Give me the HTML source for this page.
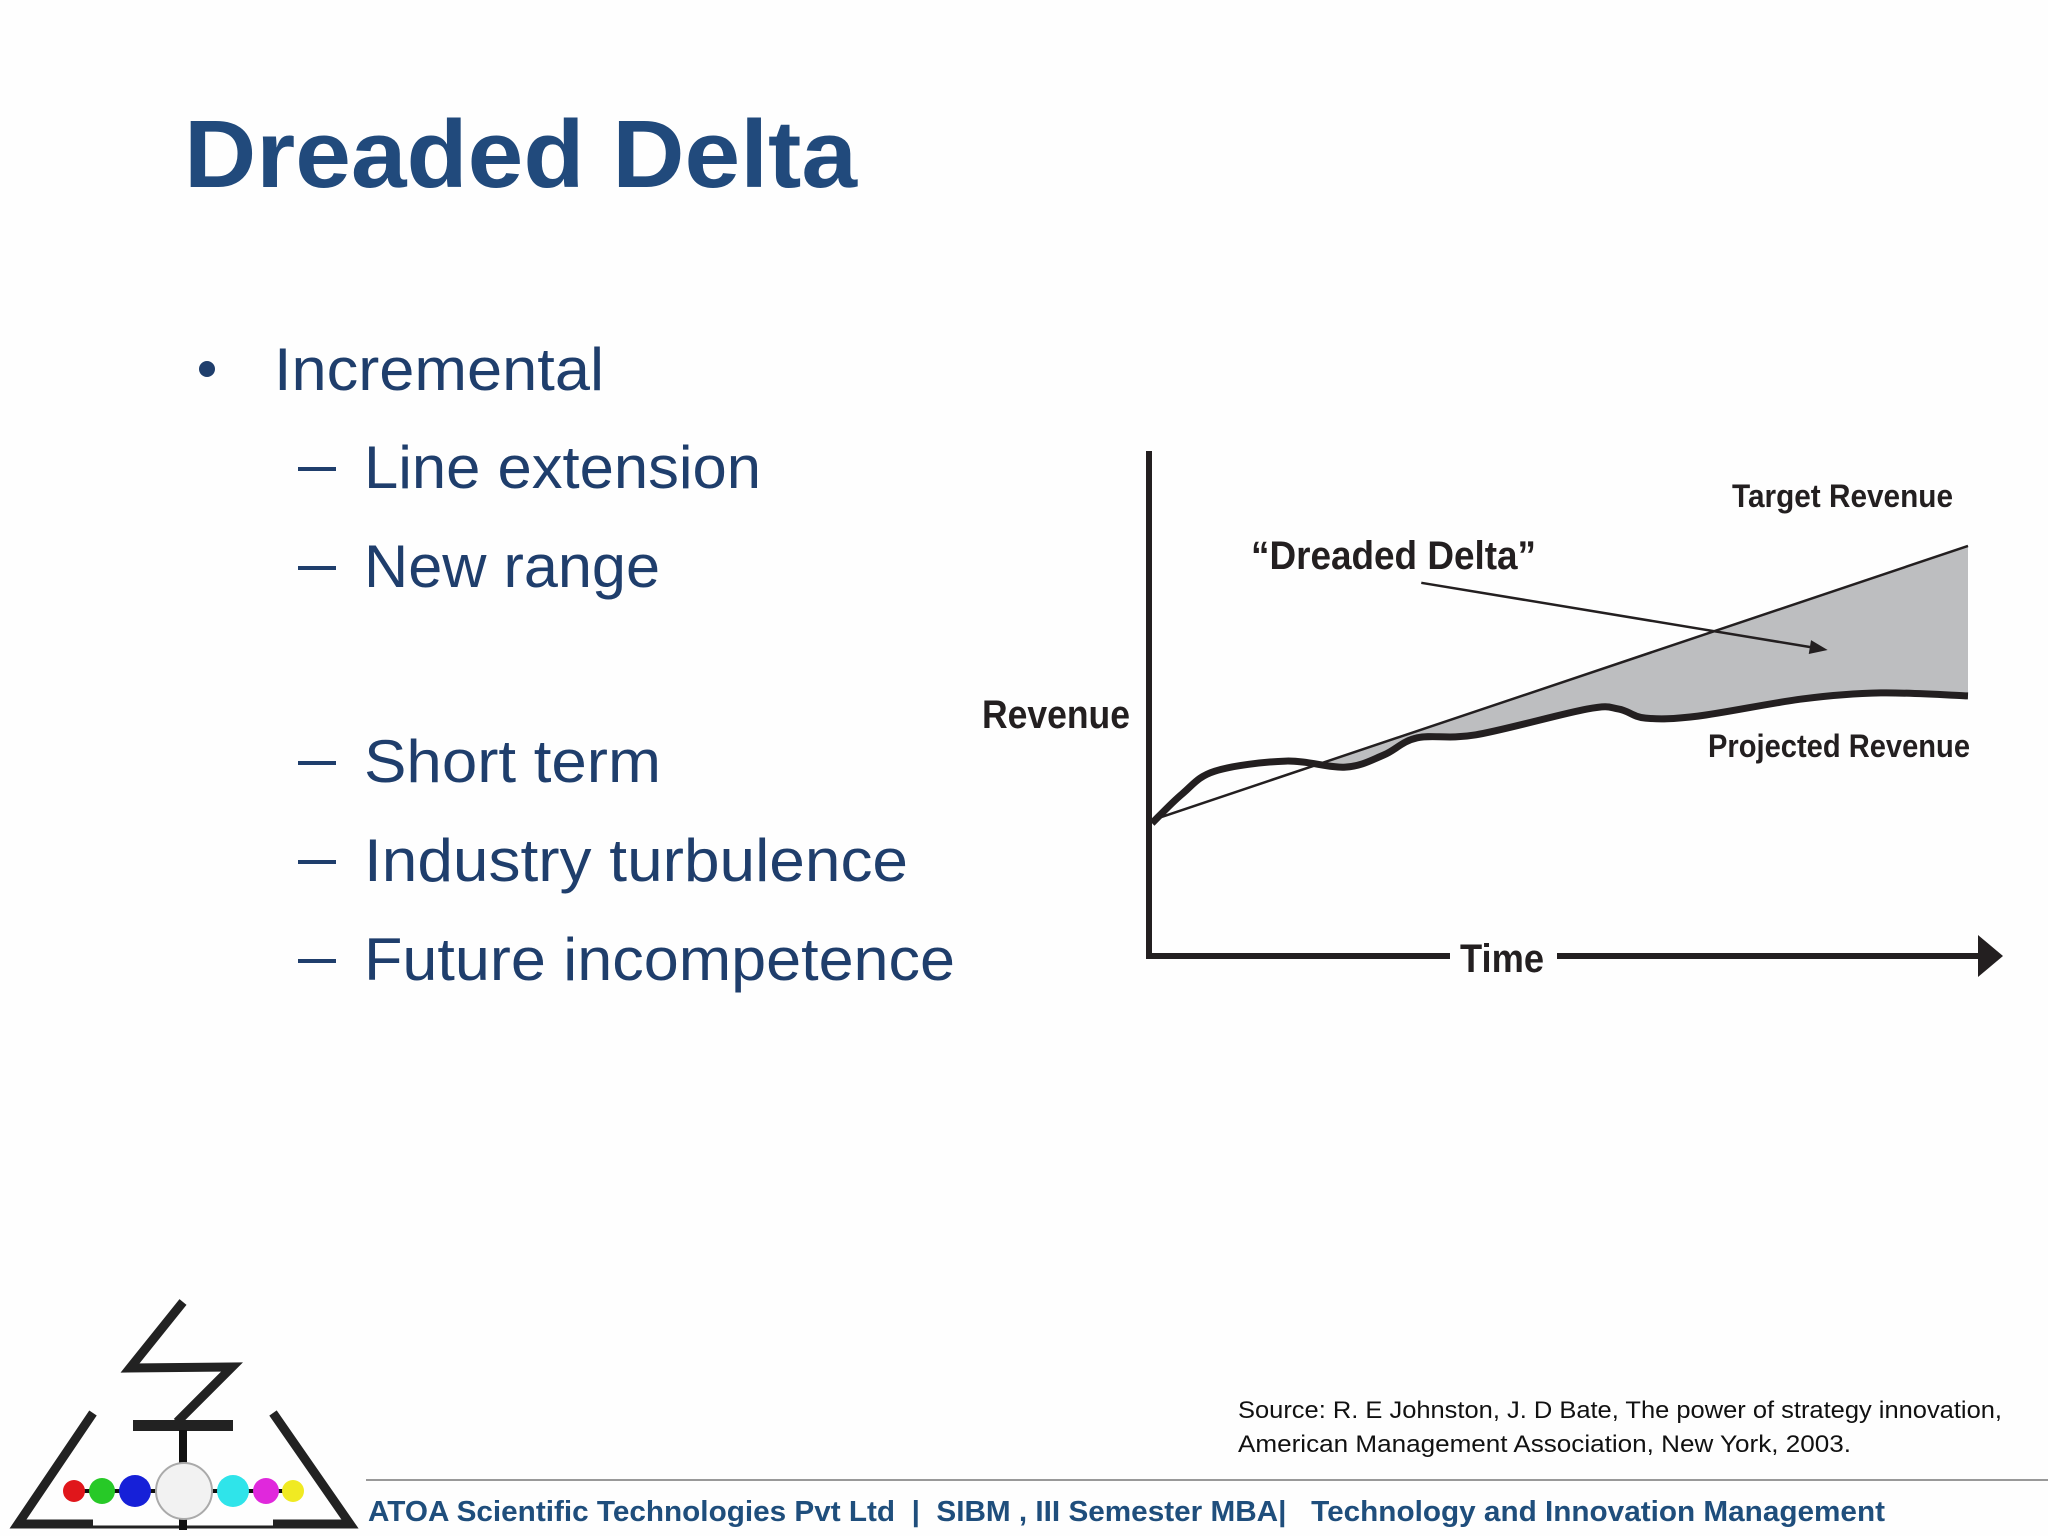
<!DOCTYPE html>
<html><head><meta charset="utf-8"><style>
html,body{margin:0;padding:0;background:#fff;}
svg{display:block;}
.n{font-family:"Liberation Sans Narrow","Liberation Sans",sans-serif;font-weight:bold;fill:#231f20;}
</style></head><body>
<svg id="s" width="2048" height="1536" viewBox="0 0 2048 1536">
<rect width="2048" height="1536" fill="#fefefe"/>
<text x="184" y="187" font-family="Liberation Sans" font-weight="bold" font-size="96" fill="#214a7c" textLength="673" lengthAdjust="spacingAndGlyphs">Dreaded Delta</text>
<g font-family="Liberation Sans" font-size="60" fill="#1f3e6c">
<circle cx="207" cy="369" r="8" fill="#1f3e6c"/>
<text x="274" y="390" textLength="330" lengthAdjust="spacingAndGlyphs">Incremental</text>
<g>
<rect x="298" y="467" width="38" height="4"/>
<text x="364" y="488" textLength="397" lengthAdjust="spacingAndGlyphs">Line extension</text>
<rect x="298" y="566" width="38" height="4"/>
<text x="364" y="587" textLength="296" lengthAdjust="spacingAndGlyphs">New range</text>
<rect x="298" y="761" width="38" height="4"/>
<text x="364" y="782" textLength="297" lengthAdjust="spacingAndGlyphs">Short term</text>
<rect x="298" y="860" width="38" height="4"/>
<text x="364" y="881" textLength="544" lengthAdjust="spacingAndGlyphs">Industry turbulence</text>
<rect x="298" y="959" width="38" height="4"/>
<text x="364" y="980" textLength="591" lengthAdjust="spacingAndGlyphs">Future incompetence</text>
</g></g>
<g id="chart"></g>
<g font-family="Liberation Sans" font-size="24" fill="#111">
<text x="1238" y="1418" textLength="764" lengthAdjust="spacingAndGlyphs">Source: R. E Johnston, J. D Bate, The power of strategy innovation,</text>
<text x="1238" y="1452" textLength="613" lengthAdjust="spacingAndGlyphs">American Management Association, New York, 2003.</text>
</g>
<line x1="366" y1="1480" x2="2048" y2="1480" stroke="#999" stroke-width="2"/>
<text x="368" y="1521" font-family="Liberation Sans" font-weight="bold" font-size="29" fill="#1f4e7c" textLength="1517" lengthAdjust="spacingAndGlyphs" xml:space="preserve">ATOA Scientific Technologies Pvt Ltd  |  SIBM , III Semester MBA|   Technology and Innovation Management</text>
<g>
<polyline points="93,1413 18,1524 93,1524" fill="none" stroke="#222" stroke-width="9"/>
<polyline points="273,1413 350,1524 273,1524" fill="none" stroke="#222" stroke-width="9"/>
<line x1="93" y1="1527" x2="273" y2="1527" stroke="#222" stroke-width="3"/>
<polyline points="183,1302 130,1368 232,1367 177,1422" fill="none" stroke="#222" stroke-width="9"/>
<rect x="133" y="1420" width="100" height="11" fill="#222"/>
<rect x="179" y="1430" width="8" height="100" fill="#111"/>
<line x1="74" y1="1491" x2="293" y2="1491" stroke="#111" stroke-width="4"/>
<circle cx="74" cy="1491" r="11" fill="#e0161b"/>
<circle cx="102" cy="1491" r="13" fill="#27c927"/>
<circle cx="135" cy="1491" r="16" fill="#1620d8"/>
<circle cx="184" cy="1491" r="28" fill="#f2f2f2" stroke="#aaa" stroke-width="2"/>
<circle cx="233" cy="1491" r="16" fill="#2fe4ea"/>
<circle cx="266" cy="1491" r="13" fill="#e028dc"/>
<circle cx="293" cy="1491" r="11" fill="#f0ea22"/>
</g>
</svg>
<script>
const timeT=[0,100];
const targetR=[26.9,81.2];
const timeP=[0,3.7,7.7,16.4,23.7,28.4,32.5,39.7,53.3,57.2,60.5,66.9,79.7,89.3,100];
const projR=[26.3,32.1,36.6,38.6,37.4,39.8,43.2,43.8,48.9,48.9,47.1,47.5,50.9,52.1,51.5];
const arrowFrom=[33.0,73.9];const arrowTo=[82.8,60.6];
const NS="http://www.w3.org/2000/svg";
const xS=t=>1152+8.16*t, yS=r=>956-5.05*r;
const g=document.getElementById('chart');
function el(tag,attrs){const e=document.createElementNS(NS,tag);for(const k in attrs)e.setAttribute(k,attrs[k]);g.appendChild(e);return e;}
const tPts=timeT.map((t,i)=>[xS(t),yS(targetR[i])]);
const pPts=timeP.map((t,i)=>[xS(t),yS(projR[i])]);
const gap=el('polygon',{points:tPts.map(p=>p.join(',')).join(' ')+` ${xS(100)},${yS(0)} ${xS(0)},${yS(0)}`,fill:'#bdbec0'});


// catmull-rom smooth path
let d=`M${pPts[0][0]},${pPts[0][1]}`;
for(let i=0;i<pPts.length-1;i++){const p0=pPts[Math.max(0,i-1)],p1=pPts[i],p2=pPts[i+1],p3=pPts[Math.min(pPts.length-1,i+2)];
const c1=[p1[0]+(p2[0]-p0[0])/6,p1[1]+(p2[1]-p0[1])/6],c2=[p2[0]-(p3[0]-p1[0])/6,p2[1]-(p3[1]-p1[1])/6];
d+=` C${c1[0]},${c1[1]} ${c2[0]},${c2[1]} ${p2[0]},${p2[1]}`;}
const mask=el('path',{d:d+` L${xS(100)},${yS(0)} L${xS(0)},${yS(0)} Z`,fill:'#fefefe'});


const tl=el('line',{x1:tPts[0][0],y1:tPts[0][1],x2:tPts[1][0],y2:tPts[1][1],stroke:'#231f20','stroke-width':2.5});


const pl=el('path',{d:d,fill:'none',stroke:'#231f20','stroke-width':7,'stroke-linejoin':'round'});


const ya=el('rect',{x:1146,y:451,width:6,height:508,fill:'#231f20'});


const xa1=el('rect',{x:1146,y:953,width:304,height:6,fill:'#231f20'});


const xa2=el('rect',{x:1557,y:953,width:430,height:6,fill:'#231f20'});


const ah=el('polygon',{points:'1978,935 2003,956 1978,977',fill:'#231f20'});


const ax1=xS(arrowFrom[0]),ay1=yS(arrowFrom[1]),ax2=xS(arrowTo[0]),ay2=yS(arrowTo[1]);
const ang=Math.atan2(ay2-ay1,ax2-ax1);
const al=el('line',{x1:ax1,y1:ay1,x2:ax2-12*Math.cos(ang),y2:ay2-12*Math.sin(ang),stroke:'#231f20','stroke-width':2.5});


const hp=[[ax2,ay2],[ax2-18*Math.cos(ang)+7*Math.sin(ang),ay2-18*Math.sin(ang)-7*Math.cos(ang)],[ax2-18*Math.cos(ang)-7*Math.sin(ang),ay2-18*Math.sin(ang)+7*Math.cos(ang)]];
const ahd=el('polygon',{points:hp.map(p=>p.join(',')).join(' '),fill:'#231f20'});


function label(txt,x,y,size,w,name){const t=el('text',{x:x,y:y,'font-size':size,class:'n',textLength:w,lengthAdjust:'spacingAndGlyphs'});t.textContent=txt;

return t;}
label('Target Revenue',1732,507,32,221,'target-revenue-label');
label('\u201CDreaded Delta\u201D',1251,569,40,285,'dreaded-delta-label');
label('Projected Revenue',1708,757,32,262,'projected-revenue-label');
label('Revenue',982,728,40,148,'y-axis-title');
label('Time',1460,972,40,84,'x-axis-title');
</script>
</body></html>
